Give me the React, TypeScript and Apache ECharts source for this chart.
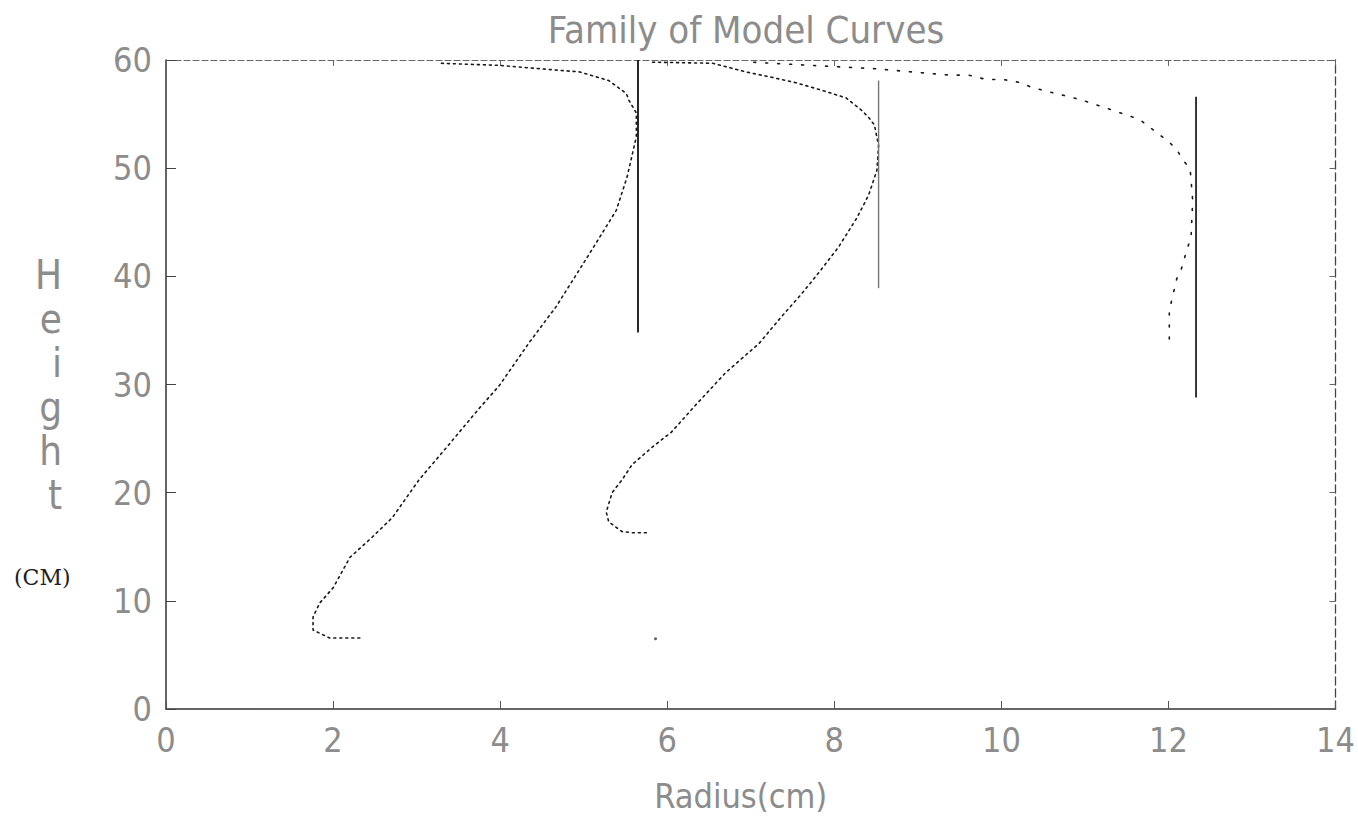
import React, { useEffect, useRef } from "react";
import * as echarts from "echarts";

const titleText = "Family of Model Curves";
const xName = "Radius(cm)";
const yNameLetters = ["H", "e", "i", "g", "h", "t"];
const yUnit = "(CM)";

const xMin = 0;
const xMax = 14;
const xStep = 2;
const yMin = 0;
const yMax = 60;
const yStep = 10;

// Model curve 1 (left)
const curve1: [number, number][] = [
  [2.32, 6.56], [1.96, 6.56], [1.76, 7.3], [1.76, 8.5], [1.84, 9.8], [2.0, 11.2],
  [2.2, 14.0], [2.47, 15.9], [2.71, 17.7], [3.03, 21.2], [3.36, 24.2], [3.75, 27.8],
  [3.99, 29.9], [4.35, 33.9], [4.67, 37.2], [5.07, 42.1], [5.39, 46.1], [5.52, 49.2],
  [5.63, 52.9], [5.63, 55.1], [5.54, 56.3], [5.51, 56.9], [5.3, 58.1], [4.95, 58.9],
  [4.62, 59.1], [4.0, 59.5], [3.27, 59.7],
];

// Model curve 2 (middle)
const curve2: [number, number][] = [
  [5.75, 16.3], [5.58, 16.3], [5.46, 16.4], [5.3, 17.3], [5.27, 18.2], [5.34, 20.0],
  [5.46, 21.2], [5.58, 22.6], [5.82, 24.2], [6.05, 25.6], [6.34, 28.1], [6.7, 31.1],
  [7.1, 33.8], [7.36, 36.2], [7.6, 38.3], [7.81, 40.3], [8.05, 42.7], [8.27, 45.4],
  [8.41, 47.5], [8.51, 49.8], [8.53, 52.1], [8.48, 54.0], [8.41, 54.7], [8.32, 55.4],
  [8.14, 56.5], [7.85, 57.2], [7.54, 57.9], [7.25, 58.4], [6.94, 58.9], [6.54, 59.7],
  [5.8, 59.8],
];

// Model curve 3 (right)
const curve3: [number, number][] = [
  [12.01, 34.2], [12.01, 35.8], [12.01, 36.7], [12.03, 37.5], [12.1, 39.8], [12.14, 40.3],
  [12.23, 42.7], [12.27, 43.5], [12.29, 47.0], [12.26, 49.9], [12.17, 50.8], [12.1, 51.7],
  [12.01, 52.4], [11.67, 54.4], [11.58, 54.7], [11.16, 55.8], [10.96, 56.3], [10.76, 56.7],
  [10.55, 57.1], [10.35, 57.5], [10.24, 57.9], [10.02, 58.2], [9.82, 58.2], [9.61, 58.6],
  [9.39, 58.6], [8.47, 59.2], [7.0, 59.8],
];

// Vertical reference lines
const guide1: [number, number][] = [[5.65, 34.8], [5.65, 60]];
const guide2: [number, number][] = [[8.53, 38.9], [8.53, 58.1]];
const guide3: [number, number][] = [[12.33, 28.8], [12.33, 56.6]];

// Stray mark
const strayPoints: [number, number][] = [[5.86, 6.5]];

const narrowFont = "'Liberation Sans Narrow', 'DejaVu Sans Condensed', 'DejaVu Sans', sans-serif";

export default function App() {
  const ref = useRef<HTMLDivElement>(null);

  useEffect(() => {
    if (!ref.current) return;
    const chart = echarts.init(ref.current, undefined, { renderer: "svg" });

    const tickLabelStyle = {
      fontFamily: narrowFont,
      fontSize: 34,
      color: "#8c8c8c",
      fontWeight: "lighter" as const,
    };

    const dottedCurve = (data: [number, number][], dash: number[]) => ({
      type: "line",
      data,
      showSymbol: false,
      smooth: false,
      silent: true,
      lineStyle: { color: "#1a1a1a", width: 1.6, type: dash, cap: "round" },
      xAxisIndex: 0,
      yAxisIndex: 0,
    });

    const guide = (data: [number, number][], color: string, width: number) => ({
      type: "line",
      data,
      showSymbol: false,
      silent: true,
      lineStyle: { color, width, type: "solid" },
      xAxisIndex: 0,
      yAxisIndex: 0,
    });

    chart.setOption({
      animation: false,
      backgroundColor: "#ffffff",
      title: {
        text: titleText,
        left: 741,
        top: 6,
        textAlign: "center",
        textStyle: {
          fontFamily: narrowFont,
          fontSize: 38,
          fontWeight: "lighter",
          color: "#8c8c8c",
        },
      },
      grid: { left: 166, right: 20, top: 60, bottom: 114, containLabel: false },
      xAxis: [
        {
          type: "value",
          position: "bottom",
          min: xMin,
          max: xMax,
          interval: xStep,
          name: xName,
          nameLocation: "middle",
          nameGap: 70,
          nameTextStyle: {
            fontFamily: narrowFont,
            fontSize: 34,
            color: "#8c8c8c",
            padding: [0, 20, 0, 0],
          },
          axisLine: { show: true, onZero: false, lineStyle: { color: "#333", width: 1.5 } },
          axisTick: { show: true, inside: true, length: 8, lineStyle: { color: "#555" } },
          axisLabel: { ...tickLabelStyle, margin: 14 },
          splitLine: { show: false },
        },
        {
          type: "value",
          position: "top",
          min: xMin,
          max: xMax,
          interval: xStep,
          axisLine: { show: true, onZero: false, lineStyle: { color: "#666", width: 1.2, type: [6, 3] } },
          axisTick: { show: true, inside: true, length: 6, lineStyle: { color: "#666" } },
          axisLabel: { show: false },
          splitLine: { show: false },
        },
      ],
      yAxis: [
        {
          type: "value",
          position: "left",
          min: yMin,
          max: yMax,
          interval: yStep,
          name: yNameLetters.join("\n"),
          nameLocation: "middle",
          nameRotate: 0,
          nameGap: 104,
          nameTextStyle: {
            fontFamily: narrowFont,
            fontSize: 40,
            lineHeight: 44,
            color: "#8c8c8c",
            fontWeight: "lighter",
          },
          axisLine: { show: true, onZero: false, lineStyle: { color: "#333", width: 1.5 } },
          axisTick: { show: true, inside: true, length: 10, lineStyle: { color: "#444" } },
          axisLabel: { ...tickLabelStyle, margin: 14 },
          splitLine: { show: false },
        },
        {
          type: "value",
          position: "right",
          min: yMin,
          max: yMax,
          interval: yStep,
          axisLine: { show: true, onZero: false, lineStyle: { color: "#444", width: 1.3, type: [8, 4] } },
          axisTick: { show: true, inside: true, length: 6, lineStyle: { color: "#666" } },
          axisLabel: { show: false },
          splitLine: { show: false },
        },
      ],
      graphic: [
        {
          type: "text",
          left: 14,
          top: 566,
          style: {
            text: yUnit,
            fontFamily: "'DejaVu Serif', 'Liberation Serif', serif",
            fontSize: 22,
            fill: "#222",
          },
        },
      ],
      series: [
        dottedCurve(curve1, [2, 4]),
        dottedCurve(curve2, [2, 4]),
        dottedCurve(curve3, [2, 10]),
        guide(guide1, "#111", 1.8),
        guide(guide2, "#777", 1.4),
        guide(guide3, "#222", 1.8),
        {
          type: "scatter",
          data: strayPoints,
          symbolSize: 3,
          silent: true,
          itemStyle: { color: "#333" },
        },
      ],
    });

    return () => chart.dispose();
  }, []);

  return (
    <div
      ref={ref}
      style={{ position: "fixed", left: 0, top: 0, width: 1358, height: 823, background: "#fff" }}
    />
  );
}
